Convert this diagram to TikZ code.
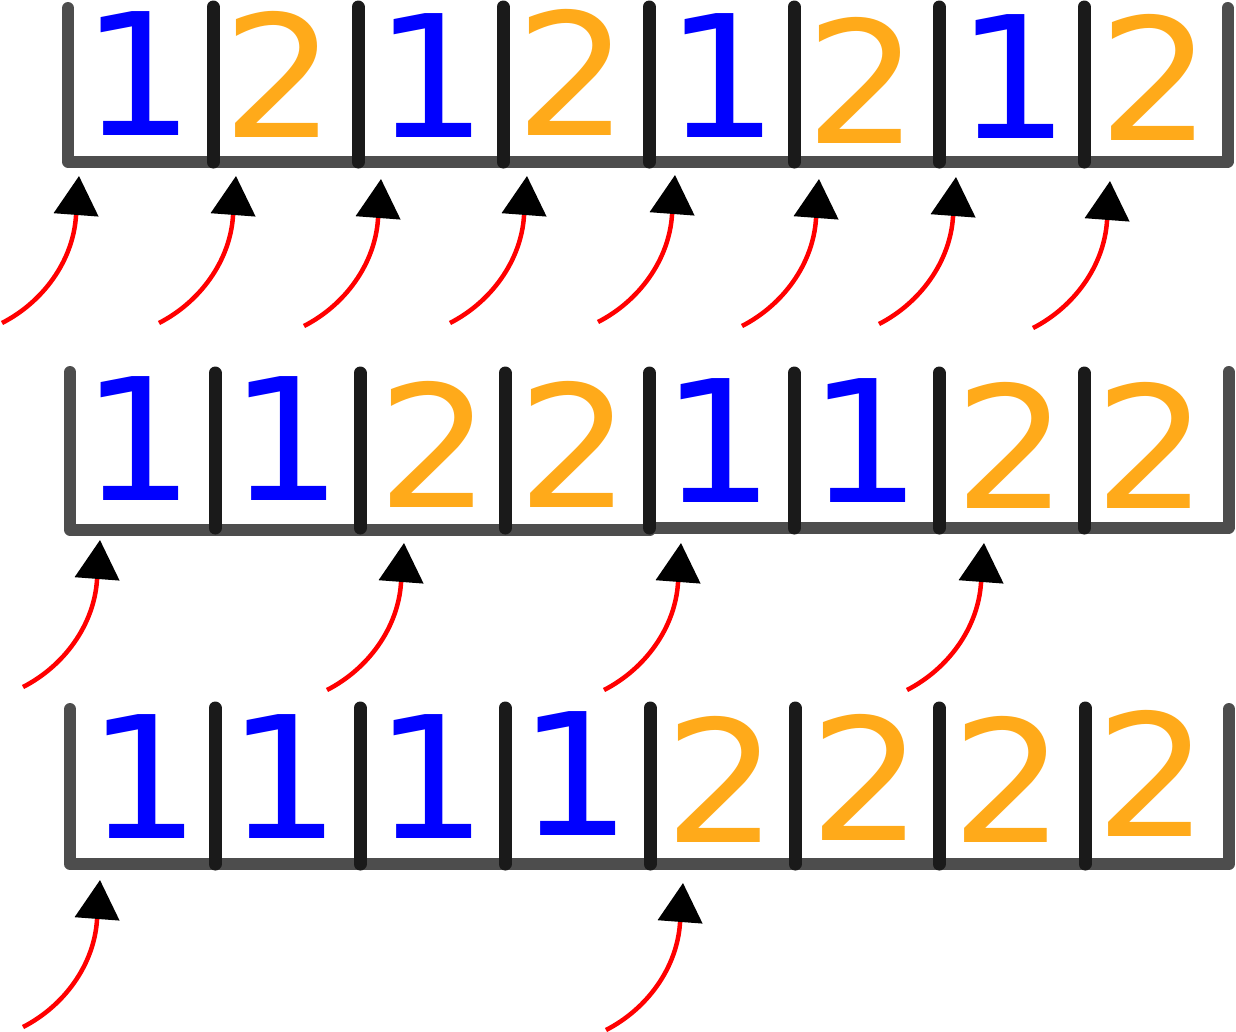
\documentclass[tikz,border=0pt]{standalone}
\usepackage{fontspec}
\usepackage{graphicx}
\newfontfamily\digitfont{DejaVu Sans}
\usetikzlibrary{arrows.meta}
\definecolor{boxgray}{HTML}{4D4D4D}
\definecolor{divdark}{HTML}{1A1A1A}
\definecolor{oneblue}{HTML}{0000FF}
\definecolor{twoorange}{HTML}{FFAA1A}
\definecolor{arrowred}{HTML}{FF0000}
\newcommand\wdigit[1]{\scalebox{1.05}[1]{#1}}
\begin{document}
\begin{tikzpicture}[x=1pt,y=-1pt,
  frame/.style={draw=boxgray, line width=12pt, line cap=round, line join=round},
  divider/.style={draw=divdark, line width=13pt, line cap=round},
  digit/.style={anchor=base, inner sep=0pt, outer sep=0pt, font=\digitfont\fontsize{170}{170}\selectfont},
  one/.style={digit, text=oneblue},
  two/.style={digit, text=twoorange},
  pointer/.style={draw=arrowred, line width=4.5pt, -{Triangle[length=39pt,width=44pt,color=black,fill=black]}}
]
\useasboundingbox (0,0) rectangle (1236,1031);

% ---------- row 1 ----------
\draw[frame] (68,8) -- (68,161.5) -- (1227.5,161.5) -- (1227.5,8);
\foreach \x in {213,358,503,649,794,939,1084}
  \draw[divider] (\x,7) -- (\x,162);
\node[one] (r1c1) at (138,135) {\wdigit{1}};
\node[two] (r1c2) at (279,137) {\wdigit{2}};
\node[one] (r1c3) at (431,137) {\wdigit{1}};
\node[two] (r1c4) at (572,135) {\wdigit{2}};
\node[one] (r1c5) at (722,137) {\wdigit{1}};
\node[two] (r1c6) at (862,143) {\wdigit{2}};
\node[one] (r1c7) at (1013,138) {\wdigit{1}};
\node[two] (r1c8) at (1155,140) {\wdigit{2}};

% ---------- row 2 ----------
\draw[frame] (70,372) -- (70,529.5) -- (650,529.5);
\draw[frame] (650,527.5) -- (1228.5,527.5) -- (1228.5,372);
\foreach \x in {215,360,505,649.5,794,939,1084}
  \draw[divider] (\x,373) -- (\x,528);
\node[one] (r2c1) at (138,500) {\wdigit{1}};
\node[one] (r2c2) at (286,500) {\wdigit{1}};
\node[two] (r2c3) at (434,507) {\wdigit{2}};
\node[two] (r2c4) at (574,507) {\wdigit{2}};
\node[one] (r2c5) at (718,502) {\wdigit{1}};
\node[one] (r2c6) at (865,502) {\wdigit{1}};
\node[two] (r2c7) at (1011,508) {\wdigit{2}};
\node[two] (r2c8) at (1151,508) {\wdigit{2}};

% ---------- row 3 ----------
\draw[frame] (70,709) -- (70,864) -- (1229,864) -- (1229,709);
\foreach \x in {215,360,505,650,795,939,1085}
  \draw[divider] (\x,708) -- (\x,864);
\node[one] (r3c1) at (144,838) {\wdigit{1}};
\node[one] (r3c2) at (284,838) {\wdigit{1}};
\node[one] (r3c3) at (431,838) {\wdigit{1}};
\node[one] (r3c4) at (575,835) {\wdigit{1}};
\node[two] (r3c5) at (721,842) {\wdigit{2}};
\node[two] (r3c6) at (866,840) {\wdigit{2}};
\node[two] (r3c7) at (1008,842) {\wdigit{2}};
\node[two] (r3c8) at (1152,836) {\wdigit{2}};

% ---------- pointers ----------
\foreach \n/\tx/\ty in {a1/79/176, a2/236/176, a3/381/179, a4/527/176,
                        a5/675/175, a6/819/179, a7/956/177, a8/1110/181,
                        b1/100/540, b2/404/543, b3/681/543, b4/984/543,
                        c1/100/880, c2/683/883} {
  \coordinate (s\n) at (\tx-77,\ty+147);
  \coordinate (b\n) at (\tx-3,\ty+40);
  \coordinate (t\n) at (\tx,\ty);
  \draw[pointer] (s\n) .. controls ([shift={(41,-21)}]s\n) and ([shift={(-3,45)}]b\n) .. (b\n) -- (t\n);
}
\end{tikzpicture}
\end{document}
